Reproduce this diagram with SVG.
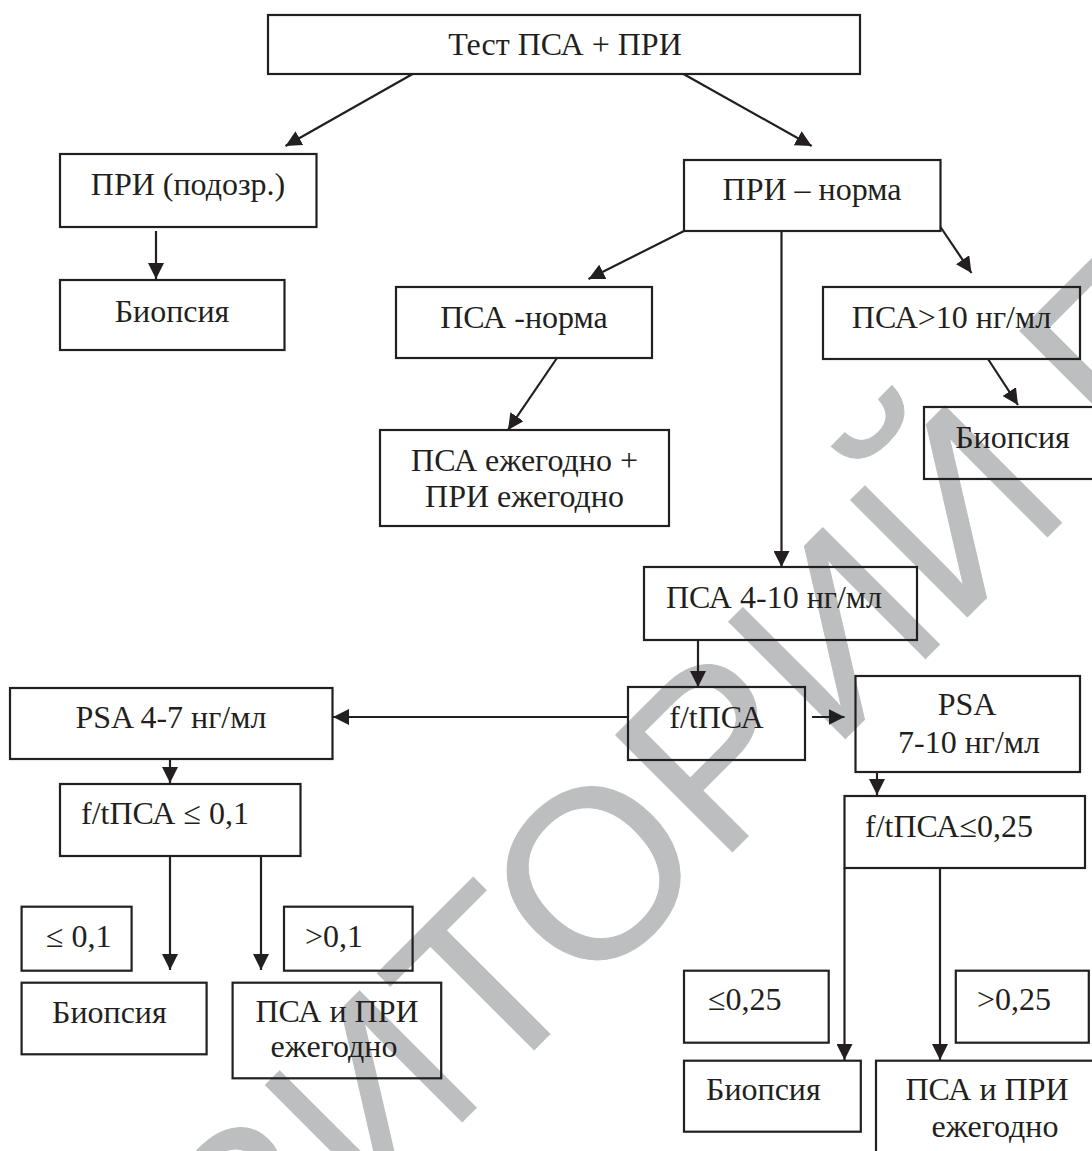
<svg xmlns="http://www.w3.org/2000/svg" width="1092" height="1151" viewBox="0 0 1092 1151">
<defs>
<marker id="ah" markerUnits="userSpaceOnUse" markerWidth="16" markerHeight="16" viewBox="0 0 16 16" refX="16" refY="8" orient="auto">
<path d="M0,0 L16,8 L0,16 z" fill="#231f20"/>
</marker>
<style>
rect{fill:none;stroke:#231f20;stroke-width:2.2}
text{font-family:"Liberation Serif","Times New Roman",serif;font-size:32px;fill:#231f20}
.m{text-anchor:middle}
#connectors line{stroke:#231f20;stroke-width:2.2;marker-end:url(#ah)}
.wm{font-family:"Liberation Sans",Arial,sans-serif;font-size:240px;fill:#bcbec0;stroke:#bcbec0;stroke-width:1}
</style>
</defs>
<rect x="0" y="0" width="1092" height="1151" style="fill:#fff;stroke:none"/>
<g id="watermark"><text class="wm" x="0" y="0" transform="translate(-214.5 1798.7) rotate(-45)">РЕПОЗИТОРИЙ ГГУ</text></g>
<g id="connectors">
<line x1="412.6" y1="74" x2="285.5" y2="146"/>
<line x1="683.5" y1="74" x2="811.7" y2="146"/>
<line x1="156" y1="231" x2="156" y2="279"/>
<line x1="684" y1="231" x2="588.5" y2="279"/>
<line x1="781.5" y1="231" x2="781.5" y2="567"/>
<line x1="940.5" y1="227" x2="971.5" y2="273"/>
<line x1="557" y1="358" x2="508" y2="430"/>
<line x1="988" y1="359" x2="1018" y2="405"/>
<line x1="698" y1="640" x2="698" y2="687"/>
<line x1="628" y1="717" x2="333" y2="717"/>
<line x1="812" y1="717" x2="844.5" y2="717"/>
<line x1="170" y1="759" x2="170" y2="783"/>
<line x1="877" y1="772" x2="877" y2="795"/>
<line x1="170" y1="856" x2="170" y2="970"/>
<line x1="261" y1="856" x2="261" y2="970"/>
<line x1="844.5" y1="868" x2="844.5" y2="1060"/>
<line x1="940" y1="868" x2="940" y2="1060"/>
</g>
<g id="n1"><rect x="268" y="15" width="592" height="59"/><text class="m" x="565" y="55">Тест ПСА + ПРИ</text></g>
<g id="n2"><rect x="60" y="154" width="256.5" height="73"/><text class="m" x="188" y="195">ПРИ (подозр.)</text></g>
<g id="n3"><rect x="60" y="280" width="224.5" height="70"/><text class="m" x="172" y="322">Биопсия</text></g>
<g id="n4"><rect x="684" y="160" width="256.5" height="71"/><text class="m" x="812" y="200">ПРИ – норма</text></g>
<g id="n5"><rect x="396" y="287" width="256" height="71"/><text class="m" x="524" y="328">ПСА -норма</text></g>
<g id="n6"><rect x="823" y="287" width="257" height="72"/><text class="m" x="951.5" y="328">ПСА&gt;10 нг/мл</text></g>
<g id="n7"><rect x="924" y="407" width="177" height="72"/><text class="m" x="1012.5" y="448">Биопсия</text></g>
<g id="n8"><rect x="380" y="430" width="289" height="96"/><text class="m" x="524.5" y="471">ПСА ежегодно +</text><text class="m" x="524.5" y="507">ПРИ ежегодно</text></g>
<g id="n9"><rect x="644" y="567" width="273" height="73"/><text class="m" x="774" y="608">ПСА 4-10 нг/мл</text></g>
<g id="n10"><rect x="628" y="687" width="177" height="73"/><text class="m" x="716.5" y="728">f/tПСА</text></g>
<g id="n11"><rect x="10" y="688" width="322.5" height="71"/><text class="m" x="171" y="728">PSA 4-7 нг/мл</text></g>
<g id="n12"><rect x="855.5" y="676" width="224.5" height="96"/><text class="m" x="967" y="715">PSA</text><text class="m" x="969" y="753">7-10 нг/мл</text></g>
<g id="n13"><rect x="60" y="784" width="240.5" height="72"/><text x="81" y="824">f/tПСА ≤ 0,1</text></g>
<g id="n14"><rect x="844.5" y="796" width="240.5" height="72"/><text x="865" y="837">f/tПСА≤0,25</text></g>
<g id="n15"><rect x="21.6" y="906.7" width="110" height="64"/><text x="46" y="947">≤ 0,1</text></g>
<g id="n16"><rect x="284" y="906.7" width="128.6" height="64"/><text x="305" y="947">&gt;0,1</text></g>
<g id="n17"><rect x="21.6" y="982.7" width="185" height="71.6"/><text x="52" y="1023">Биопсия</text></g>
<g id="n18"><rect x="232.6" y="982.7" width="208.6" height="95.6"/><text class="m" x="337" y="1022">ПСА и ПРИ</text><text class="m" x="334" y="1057">ежегодно</text></g>
<g id="n19"><rect x="684" y="970.7" width="144.7" height="72"/><text x="708" y="1010">≤0,25</text></g>
<g id="n20"><rect x="955.8" y="970.7" width="133" height="72"/><text x="977" y="1010">&gt;0,25</text></g>
<g id="n21"><rect x="684" y="1060.7" width="176.8" height="71"/><text x="706" y="1100">Биопсия</text></g>
<g id="n22"><rect x="876" y="1060.7" width="225" height="100"/><text class="m" x="987" y="1100">ПСА и ПРИ</text><text class="m" x="995" y="1137">ежегодно</text></g>
</svg>
